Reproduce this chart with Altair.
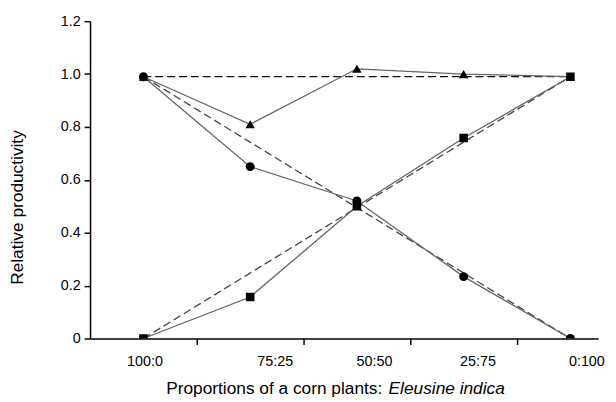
import altair as alt
import pandas as pd

FONT = "Liberation Sans"

# ---- data ----
categories = ["100:0", "75:25", "50:50", "25:75", "0:100"]
x_index = [1, 2, 3, 4, 5]
total_ry = [0.99, 0.81, 1.02, 1.00, 0.99]      # triangles
corn_ry = [0.99, 0.65, 0.52, 0.234, 0.0]       # circles
eleusine_ry = [0.0, 0.157, 0.50, 0.758, 0.99]  # squares

expected_x = [1, 5]
expected_total = [0.99, 0.99]
expected_corn = [0.99, 0.0]
expected_eleusine = [0.0, 0.99]

# axis positions (in x units) of tick marks and category labels
tick_pos = [1.5, 2.5, 3.5, 4.5]
label_pos = [1.01, 2.23, 3.16, 4.13, 5.15]
y_ticks = [0, 0.2, 0.4, 0.6, 0.8, 1.0, 1.2]

title_main = "Proportions of a corn plants:"
title_italic = "Eleusine indica"
y_title = "Relative productivity"

series_names = ["total", "corn", "eleusine"]

# ---- tables ----
obs_rows = []
for name, vals in zip(series_names, [total_ry, corn_ry, eleusine_ry]):
    for xi, v in zip(x_index, vals):
        obs_rows.append({"series": name, "x": xi, "y": v})
obs_df = pd.DataFrame(obs_rows)

exp_rows = []
for name, vals in zip(series_names, [expected_total, expected_corn, expected_eleusine]):
    for xi, v in zip(expected_x, vals):
        exp_rows.append({"series": name, "x": xi, "y": v})
exp_df = pd.DataFrame(exp_rows)

label_expr = ""
for p, c in zip(label_pos, categories):
    label_expr += f"abs(datum.value - {p}) < 0.001 ? '{c}' : "
label_expr += "''"

tick_test = "indexof([" + ",".join(str(t) for t in tick_pos) + "], datum.value) >= 0"

x_scale = alt.Scale(domain=[0.5, 5.26], nice=False, zero=False)
y_scale = alt.Scale(domain=[0, 1.2], nice=False)

x_axis = alt.Axis(
    values=tick_pos + label_pos,
    labelExpr=label_expr,
    tickOpacity={"condition": {"test": tick_test, "value": 1}, "value": 0},
    grid=False,
    domainColor="black",
    domainWidth=1.5,
    tickColor="black",
    tickWidth=1.5,
    tickSize=6,
    labelFont=FONT,
    labelFontSize=14.5,
    labelColor="black",
    labelPadding=10,
    labelFlush=False,
    labelOverlap=False,
    labelBound=False,
    title=None,
)

y_axis = alt.Axis(
    values=y_ticks,
    labelExpr="datum.value == 0 ? '0' : format(datum.value, '.1f')",
    grid=False,
    domainColor="black",
    domainWidth=1.5,
    tickColor="black",
    tickWidth=1.5,
    tickSize=6,
    labelFont=FONT,
    labelFontSize=14.5,
    labelColor="black",
    labelPadding=4,
    labelOverlap=False,
    title=y_title,
    titleFont=FONT,
    titleFontSize=17.5,
    titleFontWeight="normal",
    titleColor="black",
    titleAngle=270,
    titleAlign="center",
    titleBaseline="middle",
    titleX=-73,
    titleY=188,
)

expected = alt.Chart(exp_df).mark_line(strokeWidth=1.3).encode(
    x=alt.X("x:Q", scale=x_scale, axis=x_axis),
    y=alt.Y("y:Q", scale=y_scale, axis=y_axis),
    detail="series:N",
    color=alt.Color("series:N", scale=alt.Scale(domain=series_names, range=["#111111", "#444444", "#444444"]), legend=None),
    strokeDash=alt.StrokeDash("series:N", scale=alt.Scale(domain=series_names, range=[[8, 4], [8, 4], [8, 4]]), legend=None),
)

observed = alt.Chart(obs_df).mark_line(color="#646464", strokeWidth=1.3).encode(
    x=alt.X("x:Q", scale=x_scale, axis=x_axis),
    y=alt.Y("y:Q", scale=y_scale, axis=y_axis),
    detail="series:N",
)

points = alt.Chart(obs_df).mark_point(filled=True, color="black", opacity=1, strokeWidth=0, clip=True).encode(
    x=alt.X("x:Q", scale=x_scale, axis=x_axis),
    y=alt.Y("y:Q", scale=y_scale, axis=y_axis),
    shape=alt.Shape("series:N", scale=alt.Scale(domain=series_names, range=["triangle-up", "circle", "square"]), legend=None),
    size=alt.Size("series:N", scale=alt.Scale(domain=series_names, range=[90, 75, 85]), legend=None),
)

t1 = alt.Chart(pd.DataFrame({"t": [title_main]})).mark_text(
    align="left", baseline="middle", font=FONT, fontSize=17.5, color="black"
).encode(x=alt.value(77), y=alt.value(372), text="t:N")

t2 = alt.Chart(pd.DataFrame({"t": [title_italic]})).mark_text(
    align="left", baseline="middle", font=FONT, fontSize=17.5, fontStyle="italic", color="black"
).encode(x=alt.value(302), y=alt.value(372), text="t:N")

chart = alt.layer(expected, observed, points, t1, t2).resolve_scale(
    color="independent", shape="independent", size="independent", strokeDash="independent"
).properties(
    width=514,
    height=321,
    padding={"left": 83, "top": 11, "right": 10, "bottom": 70},
    autosize="none",
).configure_view(stroke=None)

chart.save("out.html", embed_options={"renderer": "svg", "actions": False})
